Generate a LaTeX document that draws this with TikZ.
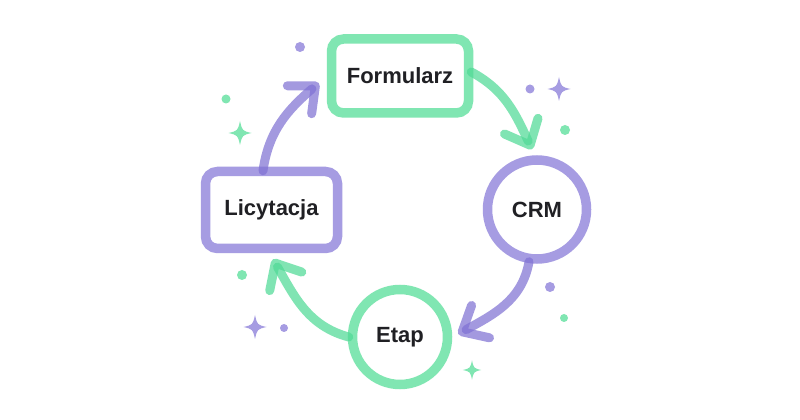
\documentclass[tikz,border=0pt]{standalone}
\usepackage{fontspec}
\setmainfont{Liberation Sans}
\usetikzlibrary{arrows.meta}
\definecolor{gbox}{RGB}{128,230,178}
\definecolor{pbox}{RGB}{166,156,226}
\definecolor{garr}{RGB}{80,218,150}
\definecolor{parr}{RGB}{128,114,212}
\definecolor{txt}{RGB}{32,32,36}
\tikzset{
  lbl/.style={font=\fontsize{22}{26}\selectfont\bfseries, text=txt},
  rbox/.style={lbl, draw=#1, line width=9.5pt, rounded corners=12pt, fill=white, inner sep=0pt},
  cbox/.style={lbl, draw=#1, line width=9.5pt, circle, fill=white, inner sep=0pt},
  flow/.style={draw=#1, line width=9pt, line cap=round, draw opacity=0.72,
    -{Straight Barb[length=21pt, width=37pt, line width=9pt, round]}},
  sparkle/.pic={\fill (0,12) .. controls (2.2,2.2) .. (11.5,0) .. controls (2.2,-2.2) .. (0,-12) .. controls (-2.2,-2.2) .. (-11.5,0) .. controls (-2.2,2.2) .. cycle;}
}
\begin{document}
\begin{tikzpicture}[x=1pt,y=1pt]
\useasboundingbox (0,0) rectangle (800,420);
\fill[white] (0,0) rectangle (800,420);
% nodes
\node[rbox=gbox, minimum width=137pt, minimum height=74pt] (form) at (400,344) {Formularz};
\node[rbox=pbox, minimum width=132pt, minimum height=77pt] (lic) at (271.5,210) {Licytacja};
\node[cbox=pbox, minimum size=99pt] (crm) at (537,210.5) {CRM};
\node[cbox=gbox, minimum size=95pt] (etap) at (400,83) {Etap};
% connectors
\draw[flow=parr] ([xshift=-8.5pt,yshift=-4pt]lic.north) to[out=82, in=221] ([xshift=-8pt,yshift=-7pt]form.west);
\draw[flow=garr] ([xshift=-2pt,yshift=4pt]form.east) to[out=-28, in=115] ([xshift=-5pt,yshift=6pt]crm.north);
\draw[flow=parr] ([xshift=-8pt,yshift=2pt]crm.south) to[out=-100, in=29] ([xshift=6pt,yshift=3pt]etap.east);
\draw[flow=garr] ([xshift=1pt]etap.west) to[out=165, in=-60] ([xshift=1.5pt,yshift=-6pt]lic.south);
% decorations
\fill[pbox] (300,373) circle (5pt);
\fill[gbox] (226,321) circle (4.5pt);
\pic[fill=gbox] at (240,287) {sparkle};
\fill[pbox] (530,331) circle (4.5pt);
\pic[fill=pbox] at (559,331) {sparkle};
\fill[gbox] (565,290) circle (5pt);
\fill[gbox] (242,145) circle (5pt);
\pic[fill=pbox] at (255,93) {sparkle};
\fill[pbox] (284,92) circle (4pt);
\fill[pbox] (550,133) circle (5pt);
\fill[gbox] (564,102) circle (4pt);
\pic[fill=gbox, scale=0.8] at (472,50) {sparkle};
\end{tikzpicture}
\end{document}
